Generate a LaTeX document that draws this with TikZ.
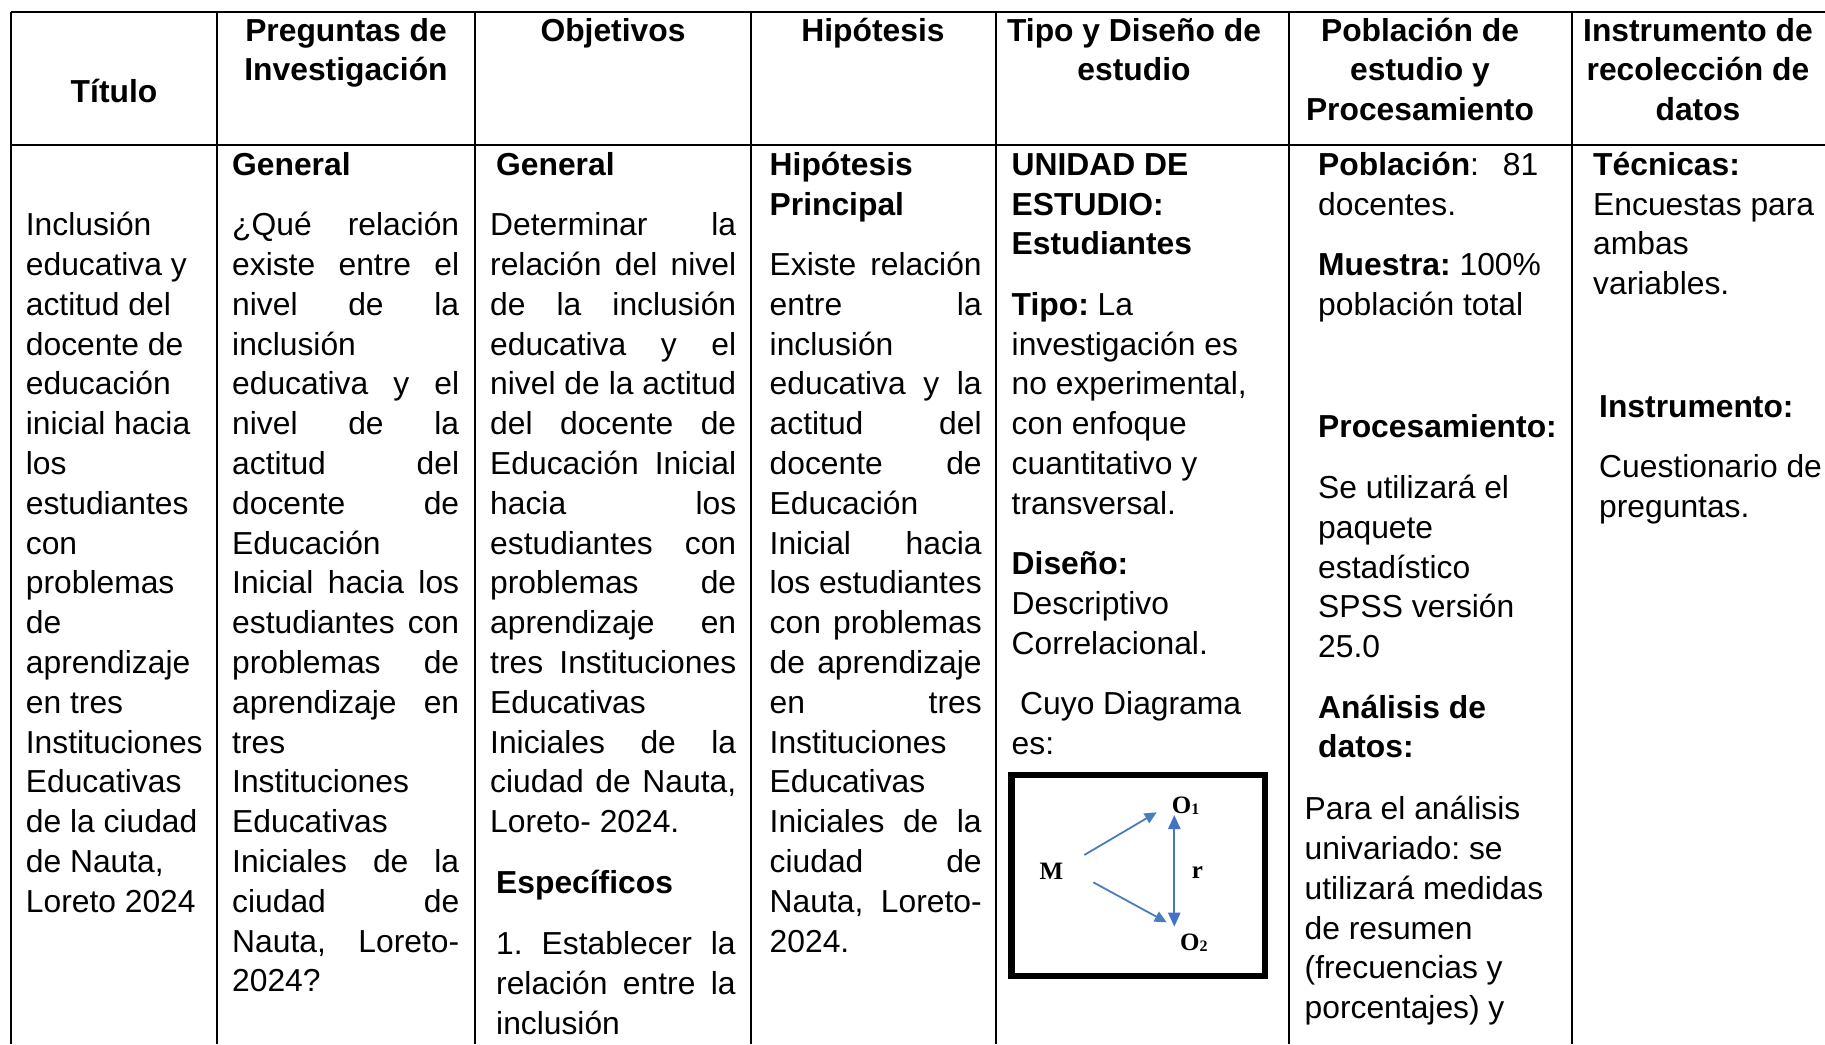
\documentclass[tikz,border=0pt]{standalone}
\usepackage{fontspec}
\setmainfont{Liberation Sans}
\newfontfamily\tnrfont{Liberation Serif}
\usetikzlibrary{arrows.meta}
\definecolor{arrblue}{RGB}{68,114,196}
\definecolor{arrbluetwo}{RGB}{74,126,187}
\newcommand\st{\rule{0pt}{32pt}}
\newcommand\jb[2]{\makebox[#1pt][s]{#2}}
\frenchspacing
\begin{document}
\frenchspacing
\begin{tikzpicture}[x=1pt,y=-1pt,
  cell/.style={anchor=north west, inner sep=0pt, align=left, font=\fontsize{31.8}{39.8}\selectfont\frenchspacing},
  head/.style={anchor=north, inner sep=0pt, align=center, font=\fontsize{31.8}{39.8}\selectfont\bfseries},
  gridline/.style={line width=2pt, black},
  dg/.style={inner sep=0pt, font=\tnrfont\bfseries\fontsize{25}{25}\selectfont},
  arrthin/.style={arrbluetwo, line width=1.8pt, -{Triangle[length=12pt,width=11pt]}},
  arrboth/.style={arrblue, line width=2.3pt, {Triangle[length=14pt,width=12pt]}-{Triangle[length=14pt,width=12pt]}}
]
\useasboundingbox (0,0) rectangle (1825,1044);
\fill[white] (0,0) rectangle (1825,1044);

% grid
\draw[gridline] (11,12) -- (1825,12);
\draw[gridline] (11,145) -- (1825,145);
\foreach \xx in {11,217,475,751,996,1289,1572} \draw[gridline] (\xx,12) -- (\xx,1044);

% headers
\node[head] (h1) at (114,70.5) {\st Título};
\node[head] (h2) at (346,8.8) {\st Preguntas de\\Investigación};
\node[head] (h3) at (613,8.8) {\st Objetivos};
\node[head] (h4) at (873,8.8) {\st Hipótesis};
\node[head] (h5) at (1134,8.8) {\st Tipo y Diseño de\\estudio};
\node[head] (h6) at (1420,8.8) {\st Población de\\estudio y\\Procesamiento};
\node[head] (h7) at (1698,8.8) {\st Instrumento de\\recolección de\\datos};

% column 1
\node[cell] (b1) at (25.7,203.5) {\st Inclusión\\educativa y\\actitud del\\docente de\\educación\\inicial hacia\\los\\estudiantes\\con\\problemas\\de\\aprendizaje\\en tres\\Instituciones\\Educativas\\de la ciudad\\de Nauta,\\Loreto 2024};

% column 2
\node[cell] (b2) at (232,143) {\st\textbf{General}\\[20.7pt]
\jb{227}{¿Qué relación}\\
\jb{227}{existe entre el}\\
\jb{227}{nivel de la}\\
inclusión\\
\jb{227}{educativa y el}\\
\jb{227}{nivel de la}\\
\jb{227}{actitud del}\\
\jb{227}{docente de}\\
Educación\\
\jb{227}{Inicial hacia los}\\
\jb{227}{estudiantes con}\\
\jb{227}{problemas de}\\
\jb{227}{aprendizaje en}\\
tres\\
Instituciones\\
Educativas\\
\jb{227}{Iniciales de la}\\
\jb{227}{ciudad de}\\
\jb{227}{Nauta, Loreto-}\\
2024?};

% column 3
\node[cell] (b3) at (490,143) {\st\hspace*{6pt}\textbf{General}\\[20.7pt]
\jb{246}{Determinar la}\\
\jb{246}{relación del nivel}\\
\jb{246}{de la inclusión}\\
\jb{246}{educativa y el}\\
\jb{246}{nivel de la actitud}\\
\jb{246}{del docente de}\\
\jb{246}{Educación Inicial}\\
\jb{246}{hacia los}\\
\jb{246}{estudiantes con}\\
\jb{246}{problemas de}\\
\jb{246}{aprendizaje en}\\
\jb{246}{tres Instituciones}\\
Educativas\\
\jb{246}{Iniciales de la}\\
\jb{246}{ciudad de Nauta,}\\
Loreto- 2024.\\[20.7pt]
\hspace*{6pt}\textbf{Específicos}\\[21.7pt]
\hspace*{6pt}\jb{239.5}{1. Establecer la}\\
\hspace*{6pt}\jb{239.5}{relación entre la}\\
\hspace*{6pt}inclusión};

% column 4
\node[cell] (b4) at (769.5,143) {\st\textbf{Hipótesis}\\
\textbf{Principal}\\[20.7pt]
\jb{212}{Existe relación}\\
\jb{212}{entre la}\\
inclusión\\
\jb{212}{educativa y la}\\
\jb{212}{actitud del}\\
\jb{212}{docente de}\\
Educación\\
\jb{212}{Inicial hacia}\\
\jb{212}{los estudiantes}\\
\jb{212}{con problemas}\\
\jb{212}{de aprendizaje}\\
\jb{212}{en tres}\\
Instituciones\\
Educativas\\
\jb{212}{Iniciales de la}\\
\jb{212}{ciudad de}\\
\jb{212}{Nauta, Loreto-}\\
2024.};

% column 5
\node[cell] (b5) at (1011.5,143) {\st\textbf{UNIDAD DE}\\
\textbf{ESTUDIO:}\\
\textbf{Estudiantes}\\[20.7pt]
\textbf{Tipo:} La\\
investigación es\\
no experimental,\\
con enfoque\\
cuantitativo y\\
transversal.\\[20.7pt]
\textbf{Diseño:}\\
Descriptivo\\
Correlacional.\\[20.7pt]
\hspace*{8.5pt}Cuyo Diagrama\\
es:};

% diagram
\draw[line width=6.7pt] (1011.6,775) rectangle (1265,976);
\node[dg, anchor=base] (M) at (1051.3,879.3) {M};
\node[dg, anchor=base west] (O1) at (1171.7,813.3) {O\raisebox{-1pt}{\fontsize{16}{16}\selectfont 1}};
\node[dg, anchor=base west] (O2) at (1180,950) {O\raisebox{-1pt}{\fontsize{16}{16}\selectfont 2}};
\node[dg, anchor=base west] (r) at (1191.7,878.3) {r};
\coordinate (a1s) at (1084.3,855);
\coordinate (a1e) at (1156.7,812.3);
\coordinate (a2s) at (1093.3,882.3);
\coordinate (a2e) at (1166.7,922.3);
\coordinate (a3t) at (1174.3,815);
\coordinate (a3b) at (1174.3,926.7);
\draw[arrthin] (a1s) -- (a1e);
\draw[arrthin] (a2s) -- (a2e);
\draw[arrboth] (a3t) -- (a3b);

% column 6
\node[cell] (b6) at (1318,143) {\st\jb{220}{\textbf{Población}: 81}\\
docentes.\\[20.7pt]
\textbf{Muestra:} 100\%\\
población total\\[82.8pt]
\textbf{Procesamiento:}\\[20.7pt]
Se utilizará el\\
paquete\\
estadístico\\
SPSS versión\\
25.0\\[20.7pt]
\textbf{Análisis de}\\
\textbf{datos:}};
\node[cell] (b6b) at (1304.5,787.5) {\st Para el análisis\\
univariado: se\\
utilizará medidas\\
de resumen\\
(frecuencias y\\
porcentajes) y};

% column 7
\node[cell] (b7) at (1593,143) {\st\textbf{Técnicas:}\\
Encuestas para\\
ambas\\
variables.};
\node[cell] (b7b) at (1599,384.8) {\st\textbf{Instrumento:}\\[20.7pt]
Cuestionario de\\
preguntas.};
\end{tikzpicture}
\end{document}
